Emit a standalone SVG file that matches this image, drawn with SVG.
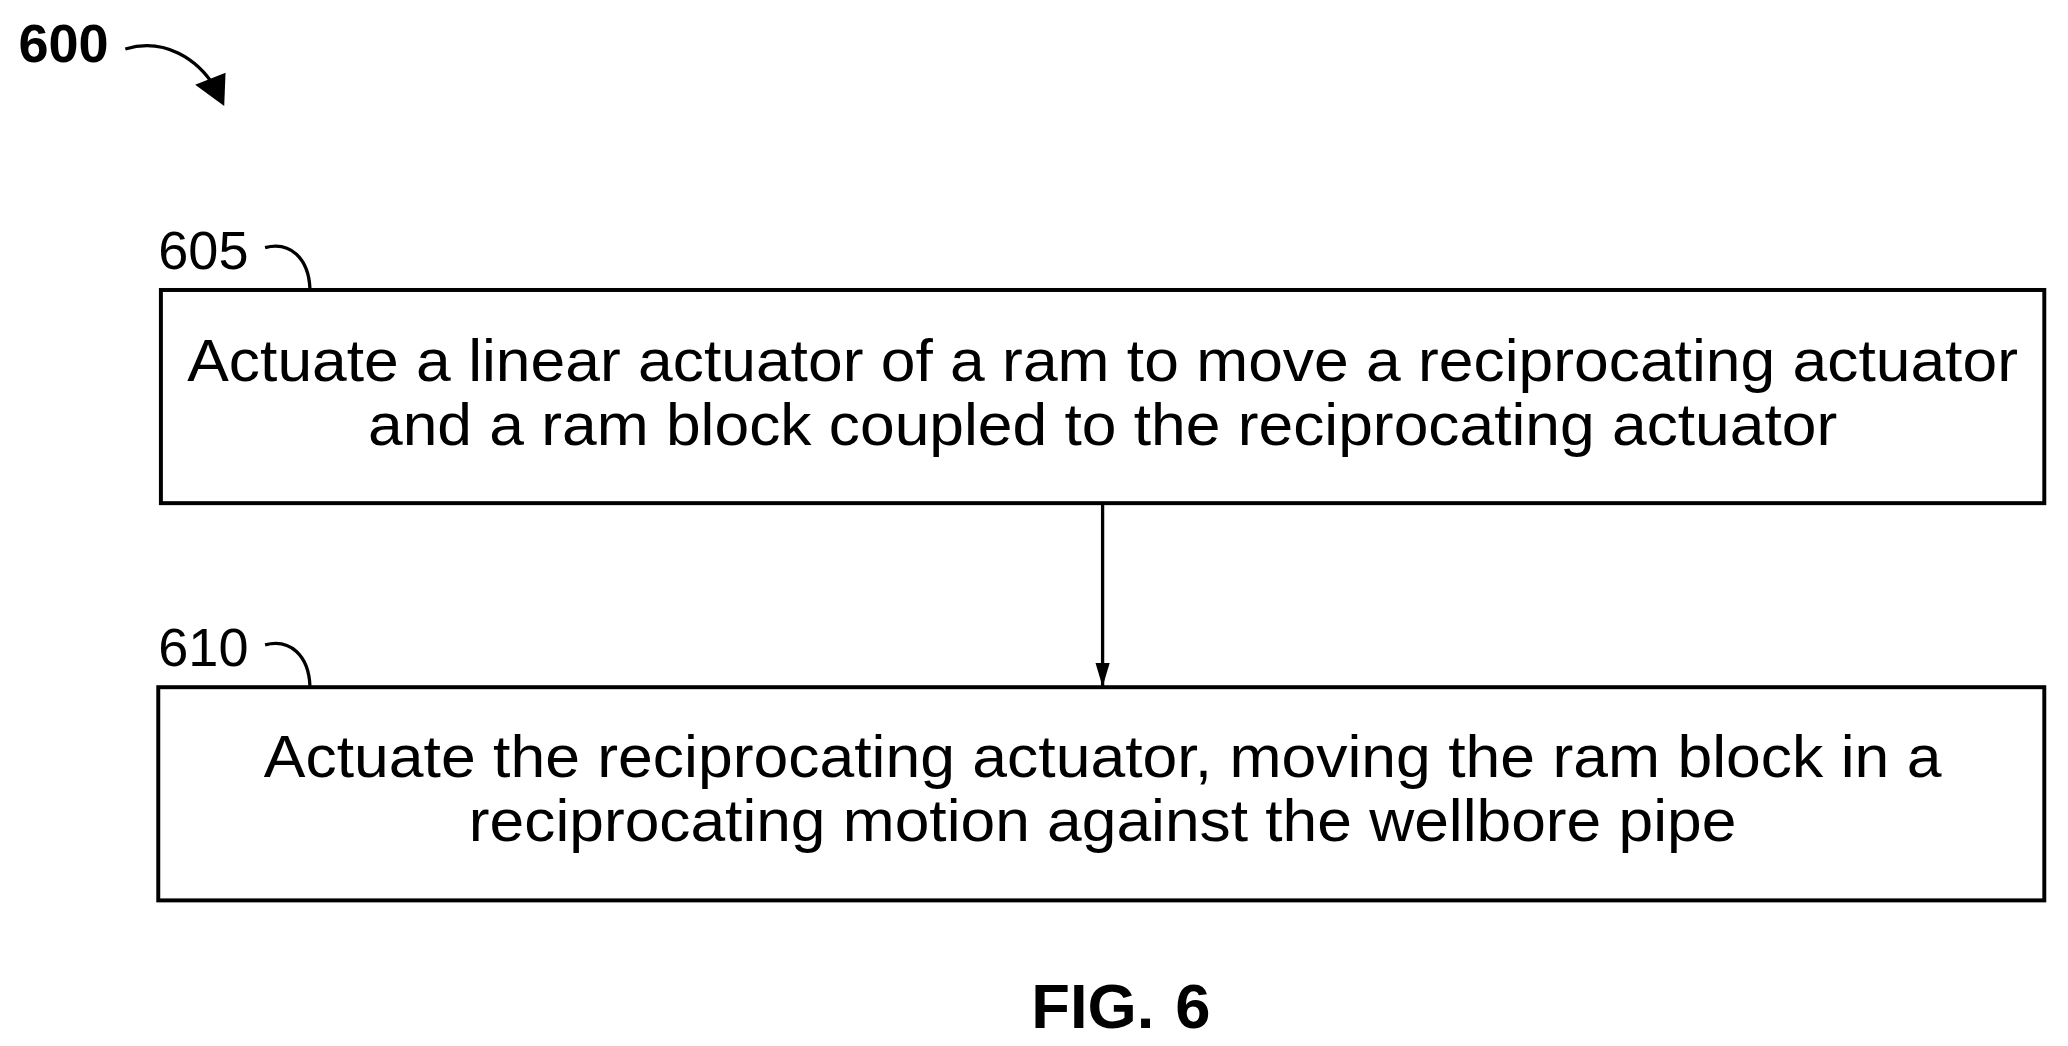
<svg xmlns="http://www.w3.org/2000/svg" width="2068" height="1046" viewBox="0 0 2068 1046">
<style>
.box{fill:#fff;stroke:#000;stroke-width:3}
.t{font-family:"Liberation Sans",Arial,sans-serif;font-size:45px;text-anchor:middle;fill:#000}
.lbl{font-family:"Liberation Sans",Arial,sans-serif;font-size:41px;fill:#000}
.ln{fill:none;stroke:#000;stroke-width:2.5}
</style>
<defs>
<marker id="ah" markerWidth="18" markerHeight="30" refX="29" refY="9" orient="auto" markerUnits="userSpaceOnUse" viewBox="0 0 30 18"><path d="M0,0 L30,9 L0,18 z" fill="#000"/></marker>
</defs>
<rect width="2068" height="1046" fill="#fff"/>
<g transform="scale(1.3189,1.3241)">
<g id="ref600">
<text x="14" y="47" class="lbl" style="font-weight:bold">600</text>
<path d="M95,37 C125,28 150,45 163,66" class="ln" stroke-width="4"/>
<path d="M148,64 L170,80 L171,55 z" fill="#000"/>
</g>
<g id="n605">
<text x="120" y="203" class="lbl">605</text>
<path d="M201,187 C220,182 234,195 235,218" class="ln"/>
<rect x="122" y="219" width="1428" height="161" class="box"/>
<text x="836" y="288" class="t" textLength="1388" lengthAdjust="spacingAndGlyphs">Actuate a linear actuator of a ram to move a reciprocating actuator</text>
<text x="836" y="336" class="t" textLength="1114" lengthAdjust="spacingAndGlyphs">and a ram block coupled to the reciprocating actuator</text>
</g>
<g id="n610">
<text x="120" y="503" class="lbl">610</text>
<path d="M201,487 C220,482 234,495 235,518" class="ln"/>
<rect x="120" y="519" width="1430" height="161" class="box"/>
<text x="836" y="587" class="t" textLength="1272" lengthAdjust="spacingAndGlyphs">Actuate the reciprocating actuator, moving the ram block in a</text>
<text x="836" y="635" class="t" textLength="961" lengthAdjust="spacingAndGlyphs">reciprocating motion against the wellbore pipe</text>
</g>
<g id="connectors">
<line x1="836" y1="380" x2="836" y2="518" class="ln" marker-end="url(#ah)"/>
</g>
<text x="782" y="776" class="lbl" style="font-weight:bold;font-size:48px">FIG.</text>
<text x="891" y="776" class="lbl" style="font-weight:bold;font-size:48px">6</text>
</g>
</svg>
